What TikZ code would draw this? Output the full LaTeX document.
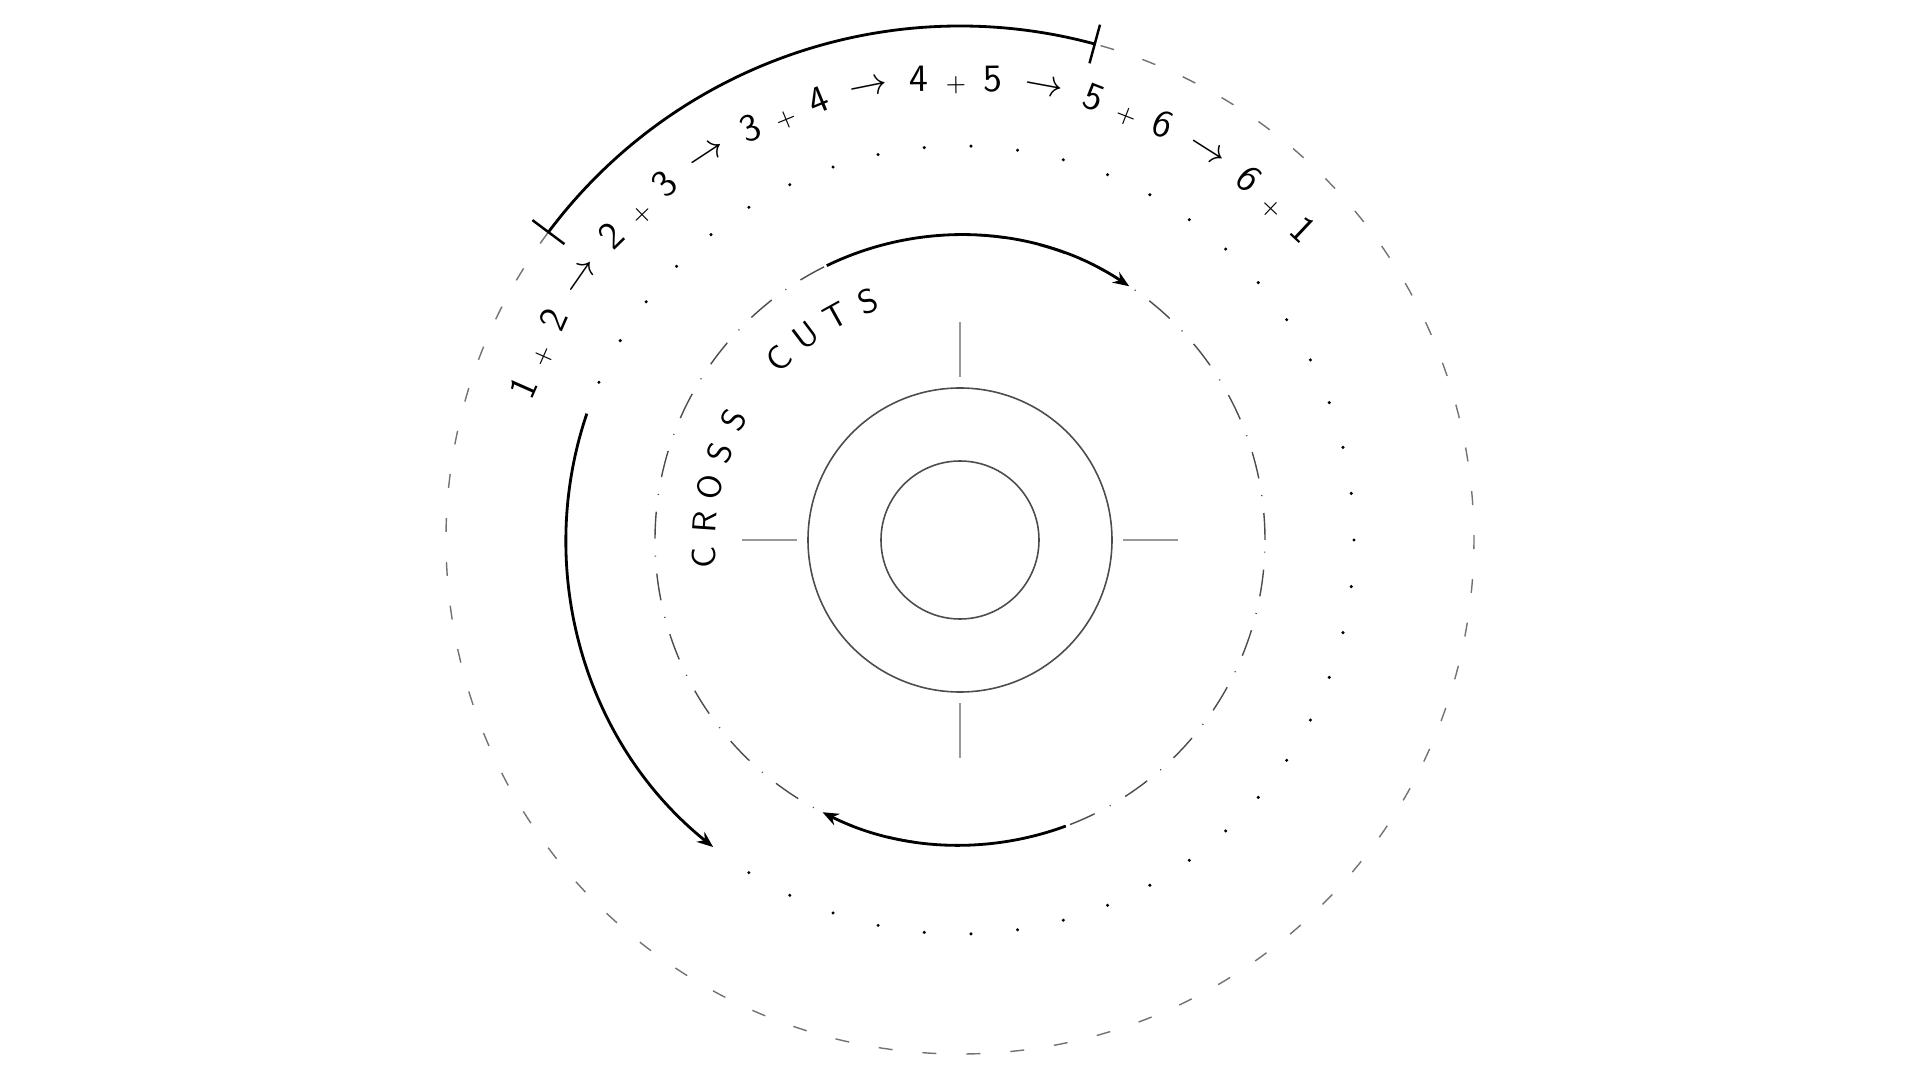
\documentclass[tikz,border=0pt]{standalone}
\usepackage{tikz}
\usetikzlibrary{calc,arrows.meta}
\def\ringarc[#1](#2:#3:#4){\draw[#1] ({#4*cos(#2)},{#4*sin(#2)}) arc (#2:#3:#4);}
\newcommand{\pls}{{\scriptsize +}}

\begin{document}
\begin{tikzpicture}[
  outerdash/.style={line width=0.4pt, color=black!55, dash pattern=on 0.14cm off 0.30cm},
  cutline/.style={line width=0.4pt, color=black!70, dash pattern=on 0.27cm off 0.17cm on 0.01cm off 0.17cm},
  ring/.style={line width=0.45pt, color=black!70},
  crossmark/.style={line width=0.4pt, color=black!40},
  bigarrow/.style={line width=0.8pt, -{Stealth[length=4.6pt,width=3.6pt]}},
  pairlabel/.style={font=\sffamily\fontsize{11}{13}\selectfont, inner sep=0pt},
  cutletter/.style={font=\sffamily\fontsize{9.5}{11}\selectfont, inner sep=0pt}
]
  %%%%% START %%%%%
  \useasboundingbox (-9.6,-5.4) rectangle (9.6,5.4);
  \coordinate (centre) at (0,0);

  % outer ring
  \ringarc[outerdash](143.2:434.8:5.14);
  \ringarc[line width=0.8pt](74.8:143.2:5.14);
  \draw[line width=0.7pt] (74.8:4.94) -- (74.8:5.34);
  \draw[line width=0.7pt] (143.2:4.94) -- (143.2:5.34);

  % dotted ring
  \foreach \k in {-18,...,23}
    \fill ({6.8*\k}:3.94) circle (0.017);
  \ringarc[bigarrow](161.3:231.2:3.94);

  % cut ring
  \draw[cutline] (centre) circle (3.05);
  \ringarc[bigarrow](115.9:56.3:3.05);
  \ringarc[bigarrow](290.3:243.2:3.05);

  % core
  \draw[ring] (centre) circle (1.52);
  \draw[ring] (centre) circle (0.79);
  \foreach \a in {0,90,180,270}
    \draw[crossmark] (\a:1.63) -- (\a:2.18);

  % pairs
  \foreach \a/\b [count=\i] in {1/2,2/3,3/4,4/5,5/6,6/1} {
    \pgfmathsetmacro\ang{156.2-21.9*(\i-1)}
    \node[pairlabel, rotate=\ang-90] (g\i) at (\ang:4.6) {\a\hspace{5pt}\pls\hspace{5pt}\b};
  }
  \foreach \i in {1,...,5} {
    \pgfmathsetmacro\ang{145.2-21.9*(\i-1)}
    \node[pairlabel, rotate=\ang-90] (r\i) at (\ang:4.6) {$\rightarrow$};
  }

  % cross cuts
  \foreach \c/\ang [count=\i] in {C/184,R/176,O/168,S/160,S/152,C/135,U/127,T/119,S/111}
    \node[cutletter, rotate=\ang-90] (l\i) at (\ang:2.56) {\c};

  %%%%% END %%%%%
\end{tikzpicture}
\end{document}
